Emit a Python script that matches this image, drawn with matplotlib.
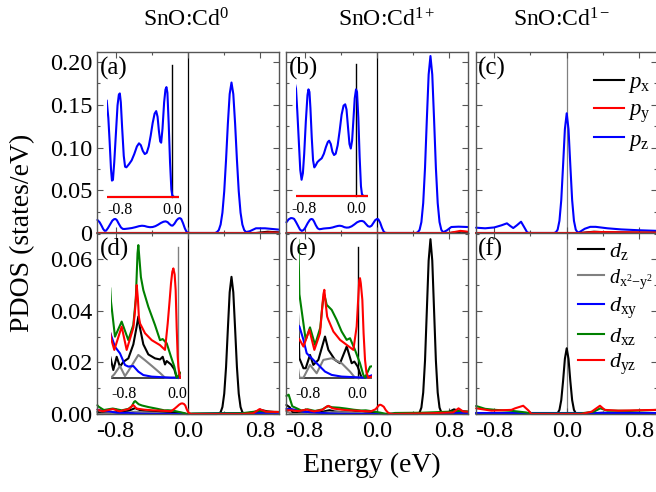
import numpy as np
import matplotlib
matplotlib.use('Agg')
import matplotlib.pyplot as plt
from matplotlib.ticker import FixedLocator
from matplotlib.lines import Line2D

plt.rcParams['font.family'] = ['Liberation Serif', 'DejaVu Serif']
plt.rcParams['mathtext.fontset'] = 'custom'
plt.rcParams['mathtext.rm'] = 'Liberation Serif'
plt.rcParams['mathtext.it'] = 'Liberation Serif:italic'
plt.rcParams['mathtext.bf'] = 'Liberation Serif:bold'
plt.rcParams['axes.unicode_minus'] = False

# ---------------- data (energy in eV, PDOS in states/eV) ----------------
titles = ['SnO:Cd$^{0}$', 'SnO:Cd$^{1+}$', 'SnO:Cd$^{1-}$']
panel_labels = ['(a)', '(b)', '(c)', '(d)', '(e)', '(f)']
p_labels = [r'$\mathit{p}_{\mathrm{x}}$', r'$\mathit{p}_{\mathrm{y}}$', r'$\mathit{p}_{\mathrm{z}}$']
d_labels = [r'$\mathit{d}_{\mathrm{z}}$', r'$\mathit{d}_{\mathrm{x}^{2}{-}\mathrm{y}^{2}}$',
            r'$\mathit{d}_{\mathrm{xy}}$', r'$\mathit{d}_{\mathrm{xz}}$', r'$\mathit{d}_{\mathrm{yz}}$']
xtick_vals = [-0.8, 0.0, 0.8]
xtick_labels = ['-0.8', '0.0', '0.8']
top_ytick_vals = [0, 0.05, 0.10, 0.15, 0.20]
top_ytick_labels = ['0', '0.05', '0.10', '0.15', '0.20']
bot_ytick_vals = [0, 0.02, 0.04, 0.06]
bot_ytick_labels = ['0.00', '0.02', '0.04', '0.06']
inset_tick_vals = [-0.8, 0.0]
inset_tick_labels = ['-0.8', '0.0']

# panel (a)
a_pz_E = [-1.0, -0.975, -0.955, -0.935, -0.92, -0.905, -0.885, -0.86, -0.835, -0.815, -0.8, -0.785, -0.765,
          -0.74, -0.72, -0.70, -0.66, -0.62, -0.58, -0.54, -0.508, -0.48, -0.45, -0.42, -0.39, -0.36, -0.33,
          -0.30, -0.27, -0.246, -0.225, -0.205, -0.185, -0.17, -0.15, -0.125, -0.105, -0.09, -0.075, -0.055,
          -0.035, -0.015, 0.0, 0.03, 0.30, 0.32, 0.34, 0.36, 0.38, 0.40, 0.42, 0.44, 0.46, 0.48, 0.50, 0.52,
          0.54, 0.56, 0.58, 0.60, 0.62, 0.64, 0.68, 0.75, 0.85, 0.95, 1.0]
a_pz = [0.0153, 0.0125, 0.0087, 0.0045, 0.0026, 0.0027, 0.0055, 0.0100, 0.0145, 0.0162, 0.0164, 0.0150,
        0.0110, 0.0065, 0.0048, 0.0047, 0.0052, 0.0058, 0.0068, 0.0080, 0.0085, 0.0082, 0.0073, 0.0068,
        0.0070, 0.0080, 0.0097, 0.0117, 0.0132, 0.0136, 0.0127, 0.0105, 0.0088, 0.0086, 0.0108, 0.0150,
        0.0170, 0.0174, 0.0165, 0.0115, 0.0055, 0.0012, 0.0002, 0.0, 0.0, 0.0011, 0.0035, 0.0099, 0.0238,
        0.0489, 0.0857, 0.1278, 0.1625, 0.176, 0.1625, 0.1278, 0.0857, 0.0489, 0.0238, 0.0099, 0.0035,
        0.0011, 0.0020, 0.0055, 0.0055, 0.0045, 0.0040]
a_px_E = [-1.0, 0.75, 0.88, 1.0]
a_px = [0.0, 0.0, 0.0015, 0.0008]
a_py_E = [-1.0, 0.8, 0.9, 1.0]
a_py = [0.0, 0.0, 0.0008, 0.0004]

# panel (b)
b_pz_E = [-1.0, -0.975, -0.95, -0.93, -0.915, -0.895, -0.87, -0.85, -0.83, -0.81, -0.79, -0.765, -0.74,
          -0.725, -0.71, -0.695, -0.675, -0.655, -0.636, -0.615, -0.59, -0.56, -0.523, -0.49, -0.46, -0.43,
          -0.41, -0.385, -0.36, -0.335, -0.31, -0.28, -0.25, -0.22, -0.19, -0.165, -0.145, -0.12, -0.10,
          -0.08, -0.06, -0.04, -0.02, 0.0, 0.015, 0.035, 0.055, 0.075, 0.09, 0.11, 0.43, 0.45, 0.47, 0.49,
          0.51, 0.53, 0.55, 0.57, 0.59, 0.61, 0.63, 0.65, 0.67, 0.69, 0.71, 0.73, 0.77, 0.82, 0.9, 1.0]
b_pz = [0.0125, 0.0160, 0.0175, 0.0172, 0.0165, 0.0130, 0.0080, 0.0040, 0.0025, 0.0035, 0.0065, 0.0115,
        0.0155, 0.0164, 0.0160, 0.0135, 0.0090, 0.0055, 0.0044, 0.0047, 0.0052, 0.0055, 0.0058, 0.0065,
        0.0075, 0.0083, 0.0085, 0.0080, 0.0068, 0.0063, 0.0065, 0.0078, 0.0100, 0.0125, 0.0139, 0.0141,
        0.0133, 0.0103, 0.0080, 0.0073, 0.0085, 0.0117, 0.0150, 0.0164, 0.0160, 0.0120, 0.0060, 0.0015,
        0.0003, 0.0, 0.0, 0.0009, 0.0037, 0.0128, 0.035, 0.0762, 0.1327, 0.1853, 0.207, 0.1853, 0.1327,
        0.0762, 0.035, 0.0128, 0.0037, 0.0009, 0.0030, 0.0070, 0.0074, 0.0070]
b_px_E = [-1.0, 0.8, 0.93, 1.0]
b_px = [0.0, 0.0, 0.0015, 0.0010]
b_py_E = [-1.0, 0.8, 0.92, 1.0]
b_py = [0.0, 0.0, 0.0025, 0.0015]

# panel (c)
c_pz_E = [-1.0, -0.9, -0.8, -0.72, -0.66, -0.62, -0.59, -0.55, -0.504, -0.47, -0.435, -0.40, -0.14, -0.12,
          -0.10, -0.08, -0.06, -0.04, -0.02, 0.0, 0.02, 0.04, 0.06, 0.08, 0.10, 0.12, 0.14, 0.2, 0.26, 0.32,
          0.45, 0.6, 0.8, 1.0]
c_pz = [0.0062, 0.0055, 0.0065, 0.0090, 0.0113, 0.0080, 0.0058, 0.0090, 0.0132, 0.0070, 0.0005, 0.0, 0.0,
        0.0008, 0.0039, 0.0143, 0.0386, 0.0791, 0.1214, 0.140, 0.1214, 0.0791, 0.0386, 0.0143, 0.0039,
        0.0008, 0.0010, 0.0050, 0.0072, 0.0072, 0.0055, 0.0042, 0.0032, 0.0025]
c_px_E = [-1.0, 0.15, 0.3, 0.45, 1.0]
c_px = [0.0, 0.0, 0.0015, 0.0008, 0.0003]
c_py_E = [-1.0, 0.15, 0.3, 0.5, 1.0]
c_py = [0.0, 0.0, 0.0012, 0.0010, 0.0004]

# panel (d)
d_dz_E = [-1.0, -0.988, -0.954, -0.904, -0.855, -0.805, -0.731, -0.657, -0.61, -0.583, -0.56, -0.509,
          -0.435, -0.336, -0.262, -0.222, -0.188, -0.163, -0.099, -0.05, -0.015, 0.32, 0.34, 0.36, 0.38,
          0.40, 0.42, 0.44, 0.46, 0.48, 0.50, 0.52, 0.54, 0.56, 0.58, 0.60, 0.62, 0.64, 0.75, 0.8, 0.88, 1.0]
d_dz = [0.0008, 0.00067, 0.00029, 0.00079, 0.00042, 0.0006, 0.00073, 0.00126, 0.0019, 0.00231, 0.0019,
        0.00126, 0.00088, 0.00073, 0.00069, 0.00079, 0.0005, 0.00063, 0.0005, 0.00032, 0.0, 0.0, 0.0002,
        0.0007, 0.0027, 0.0079, 0.0182, 0.0330, 0.0472, 0.0532, 0.0472, 0.0330, 0.0182, 0.0079, 0.0027,
        0.0007, 0.0002, 0.0002, 0.0009, 0.0016, 0.0010, 0.0006]
d_dx2_E = [-1.0, -0.988, -0.939, -0.855, -0.781, -0.731, -0.583, -0.484, -0.385, -0.262, -0.188, 1.0]
d_dx2 = [0.0, 0.0, 0.00013, 0.00044, 0.00006, 0.00025, 0.00086, 0.00066, 0.00045, 0.00018, 0.0, 0.0]
d_dxy_E = [-1.0, -0.988, -0.929, -0.855, -0.781, -0.731, -0.657, -0.583, -0.509, -0.385, -0.1, 0.0, 0.3,
           0.7, 1.0]
d_dxy = [0.0017, 0.00161, 0.00117, 0.00092, 0.00048, 0.00042, 0.00044, 0.00023, 0.0001, 0.00004, 0.0, 0.0,
         0.0003, 0.0004, 0.0005]
d_dxz_E = [-1.0, -0.988, -0.929, -0.83, -0.731, -0.657, -0.62, -0.595, -0.583, -0.57, -0.545, -0.509,
           -0.435, -0.336, -0.262, -0.222, -0.163, -0.099, -0.05, -0.015, 0.05, 0.6, 0.8, 0.9, 1.0]
d_dxz = [0.0034, 0.00287, 0.00155, 0.00212, 0.00142, 0.0020, 0.0030, 0.0047, 0.00501, 0.0046, 0.0038,
         0.00331, 0.00268, 0.00199, 0.00142, 0.00146, 0.0013, 0.00079, 0.00042, 0.0, 0.0002, 0.0003, 0.0012,
         0.0008, 0.0008]
d_dyz_E = [-1.0, -0.988, -0.939, -0.83, -0.756, -0.657, -0.63, -0.607, -0.59, -0.575, -0.558, -0.484,
           -0.385, -0.262, -0.188, -0.148, -0.12, -0.099, -0.08, -0.064, -0.045, -0.03, -0.015, 0.0, 0.01,
           0.034, 0.6, 0.72, 0.79, 0.86, 1.0]
d_dyz = [0.0017, 0.00149, 0.00105, 0.00193, 0.00105, 0.00189, 0.0026, 0.0035, 0.0030, 0.0023, 0.00205,
         0.00168, 0.00142, 0.00123, 0.00105, 0.00205, 0.0029, 0.00357, 0.0040, 0.00413, 0.0039, 0.00331,
         0.0019, 0.0008, 0.00042, 0.0, 0.0, 0.0003, 0.0019, 0.0009, 0.0008]

# panel (e)
e_dz_E = [-1.0, -0.96, -0.935, -0.87, -0.834, -0.765, -0.711, -0.631, -0.524, -0.47, -0.417, -0.364, -0.283,
          -0.176, -0.096, -0.053, 0.0, 0.037, 0.064, 0.45, 0.47, 0.49, 0.51, 0.53, 0.55, 0.57, 0.59, 0.61,
          0.63, 0.65, 0.67, 0.69, 0.71, 0.73, 0.78, 0.85, 0.92, 1.0]
e_dz = [0.0035, 0.0025, 0.0007, 0.00034, 0.00034, 0.00082, 0.00046, 0.00064, 0.00148, 0.001, 0.00082,
        0.00064, 0.00052, 0.00112, 0.00052, 0.00058, 0.0004, 0.00016, 0.0, 0.0, 0.0006, 0.0025, 0.0083,
        0.0207, 0.0401, 0.0595, 0.0678, 0.0595, 0.0401, 0.0207, 0.0083, 0.0025, 0.0006, 0.0002, 0.0006,
        0.0018, 0.0010, 0.0008]
e_dx2_E = [-1.0, -0.935, -0.87, -0.765, -0.658, -0.551, -0.417, -0.257, -0.123, -0.043, 1.0]
e_dx2 = [0.0010, 0.0, 0.0, 0.00046, 0.00016, 0.00064, 0.0007, 0.00052, 0.00022, 0.0, 0.0]
e_dxy_E = [-1.0, -0.935, -0.87, -0.818, -0.738, -0.631, -0.524, -0.417, -0.257, 0.118, 0.5, 1.0]
e_dxy = [0.0020, 0.00184, 0.00136, 0.00088, 0.0007, 0.00046, 0.00022, 0.0001, 0.00004, 0.0, 0.0003, 0.0004]
e_dxz_E = [-1.0, -0.975, -0.935, -0.834, -0.765, -0.684, -0.6, -0.57, -0.551, -0.535, -0.515, -0.497,
           -0.417, -0.337, -0.257, -0.176, -0.123, -0.043, 0.037, 0.091, 0.118, 0.2, 0.5, 0.8, 0.9, 1.0]
e_dxz = [0.0070, 0.0075, 0.0030, 0.00136, 0.00181, 0.00118, 0.0018, 0.0025, 0.00285, 0.00298, 0.0028,
         0.00262, 0.00244, 0.00208, 0.00166, 0.00136, 0.00142, 0.001, 0.00052, 0.0001, 0.0, 0.0004, 0.0005,
         0.0009, 0.0012, 0.0010]
e_dyz_E = [-1.0, -0.935, -0.87, -0.775, -0.695, -0.604, -0.57, -0.55, -0.535, -0.515, -0.49, -0.47, -0.39,
           -0.283, -0.176, -0.069, -0.016, 0.01, 0.025, 0.037, 0.05, 0.075, 0.095, 0.118, 0.14, 0.171, 0.6,
           0.84, 0.9, 0.95, 1.0]
e_dyz = [0.0015, 0.00138, 0.00112, 0.00172, 0.001, 0.0016, 0.0025, 0.0030, 0.00316, 0.0027, 0.0022,
         0.00208, 0.00166, 0.00136, 0.00118, 0.001, 0.00184, 0.0029, 0.0035, 0.00358, 0.0034, 0.0028,
         0.0016, 0.00064, 0.0002, 0.0, 0.0003, 0.0006, 0.0022, 0.0010, 0.0009]

# panel (f)
f_dz_E = [-1.0, -0.2, -0.12, -0.10, -0.08, -0.06, -0.04, -0.02, 0.0, 0.02, 0.04, 0.06, 0.08, 0.10, 0.12,
          0.2, 0.4, 0.6, 1.0]
f_dz = [0.0003, 0.0002, 0.0001, 0.0003, 0.0016, 0.0054, 0.0128, 0.0214, 0.0255, 0.0214, 0.0128, 0.0054,
        0.0016, 0.0003, 0.0001, 0.0001, 0.0005, 0.0003, 0.0003]
f_dx2_E = [-1.0, 1.0]
f_dx2 = [0.0, 0.0]
f_dxy_E = [-1.0, 1.0]
f_dxy = [0.0004, 0.0004]
f_dxz_E = [-1.0, -0.9, -0.79, -0.6, -0.45, -0.4, 0.15, 0.3, 0.37, 0.45, 0.7, 1.0]
f_dxz = [0.0031, 0.0020, 0.0016, 0.0012, 0.0006, 0.0002, 0.0002, 0.0009, 0.0022, 0.0013, 0.0012, 0.0016]
f_dyz_E = [-1.0, -0.83, -0.61, -0.57, -0.48, -0.42, -0.39, 0.164, 0.275, 0.367, 0.42, 0.57, 1.0]
f_dyz = [0.0022, 0.0013, 0.0016, 0.0022, 0.0032, 0.0013, 0.0, 0.0, 0.0009, 0.0032, 0.0016, 0.0013, 0.0016]

# ---------------- styling ----------------
BLUE, RED, BLACK, GRAY, GREEN = '#0000ff', '#ff0000', '#000000', '#808080', '#008000'
p_colors = [BLACK, RED, BLUE]
d_colors = [BLACK, GRAY, BLUE, GREEN, RED]

top_sets = [
    [(a_px_E, a_px), (a_py_E, a_py), (a_pz_E, a_pz)],
    [(b_px_E, b_px), (b_py_E, b_py), (b_pz_E, b_pz)],
    [(c_px_E, c_px), (c_py_E, c_py), (c_pz_E, c_pz)],
]
bot_sets = [
    [(d_dz_E, d_dz), (d_dx2_E, d_dx2), (d_dxy_E, d_dxy), (d_dxz_E, d_dxz), (d_dyz_E, d_dyz)],
    [(e_dz_E, e_dz), (e_dx2_E, e_dx2), (e_dxy_E, e_dxy), (e_dxz_E, e_dxz), (e_dyz_E, e_dyz)],
    [(f_dz_E, f_dz), (f_dx2_E, f_dx2), (f_dxy_E, f_dxy), (f_dxz_E, f_dxz), (f_dyz_E, f_dyz)],
]
top_order = [2, 0, 1]   # pz first, px and py drawn over it

W, H = 656.0, 492.0
fig = plt.figure(figsize=(W / 100, H / 100), dpi=100)


def rect(x0, x1, ytop, ybot):
    return [x0 / W, 1 - ybot / H, (x1 - x0) / W, (ybot - ytop) / H]


col_x = [(97.4, 278.6), (286.4, 467.6), (476.1, 657.3)]
row_y = [(52, 233), (233, 414)]
SPINE = '#555555'
LW = 1.5
LKW = dict(lw=LW, solid_joinstyle='round', solid_capstyle='round')

axes = {}
for r in range(2):
    for c in range(3):
        ax = fig.add_axes(rect(col_x[c][0], col_x[c][1], row_y[r][0], row_y[r][1]))
        axes[(r, c)] = ax
        ax.set_xlim(-1, 1)
        ax.axvline(0, color=(GRAY if c == 2 else BLACK), lw=0.9, zorder=1)
        if r == 0:
            for k in top_order:
                E, v = top_sets[c][k]
                ax.plot(E, v, color=p_colors[k], clip_on=False, zorder=2, **LKW)
            ax.set_ylim(0, 0.2117)
            ax.set_yticks(top_ytick_vals)
            ax.yaxis.set_minor_locator(FixedLocator([0.025, 0.075, 0.125, 0.175]))
            ax.set_yticklabels(top_ytick_labels if c == 0 else [])
        else:
            for k in range(5):
                E, v = bot_sets[c][k]
                ax.plot(E, v, color=d_colors[k], clip_on=False, zorder=2, **LKW)
            ax.set_ylim(0, 0.0702)
            ax.set_yticks(bot_ytick_vals)
            ax.yaxis.set_minor_locator(FixedLocator([0.01, 0.03, 0.05, 0.07]))
            ax.set_yticklabels(bot_ytick_labels if c == 0 else [])
        ax.set_xticks(xtick_vals)
        ax.xaxis.set_minor_locator(FixedLocator([-0.4, 0.4]))
        ax.set_xticklabels(xtick_labels if r == 1 else [])
        ax.tick_params(which='both', direction='in', top=True, right=True, colors=SPINE,
                       labelcolor='black', labelsize=17.5, width=0.8)
        ax.tick_params(which='major', length=4)
        ax.tick_params(which='minor', length=2.5)
        ax.tick_params(axis='x', pad=5)
        ax.tick_params(axis='y', pad=3.5)
        for s in ax.spines.values():
            s.set_color(SPINE)
            s.set_linewidth(1.0)
        ax.text(0.012, 0.975, panel_labels[r * 3 + c], transform=ax.transAxes,
                ha='left', va='top', fontsize=18)

# legends
hp = [Line2D([], [], color=col, lw=LW) for col in p_colors]
axes[(0, 2)].legend(hp, p_labels, loc='upper left', bbox_to_anchor=(0.648, 0.89), frameon=False,
                    fontsize=16.5, handlelength=1.35, handletextpad=0.15, labelspacing=0.2,
                    borderpad=0, borderaxespad=0)
hd = [Line2D([], [], color=col, lw=LW) for col in d_colors]
leg_d = axes[(1, 2)].legend(hd, d_labels, loc='upper left', bbox_to_anchor=(0.56, 0.955), frameon=False,
                            fontsize=16, handlelength=1.2, handletextpad=0.2, labelspacing=0.22,
                            borderpad=0, borderaxespad=0)
leg_d.get_texts()[1].set_fontsize(14.5)

# insets (magnified valence region)
inset_specs = [
    # (row, col, left_px, right_px, base_px, top_px, xlim, ytop, vline colour, baseline, label pad)
    (0, 0, 106.7, 178.9, 197.0, 65.0, (-1.0, 0.10), 0.0209, BLACK, False, 1.5),
    (0, 1, 296.0, 368.3, 196.0, 64.0, (-0.915, 0.187), 0.0203, BLACK, False, 1.5),
    (1, 0, 111.0, 181.0, 377.7, 246.7, (-0.988, 0.049), 0.00495, GRAY, True, 3.5),
    (1, 1, 299.4, 372.0, 377.7, 247.0, (-0.935, 0.23), 0.0047, BLACK, True, 3.5),
]
BOT_M, TOP_M = 3.0, 8.0
for (r, c, x0, x1, base, top, xl, ytop, vcol, baseline, lpad) in inset_specs:
    hpx = base - top
    scale = ytop / hpx
    iax = fig.add_axes(rect(x0, x1, top - TOP_M, base + BOT_M))
    iax.set_xlim(*xl)
    iax.set_ylim(-BOT_M * scale, ytop + TOP_M * scale)
    tot = hpx + BOT_M + TOP_M
    iax.axvline(0, ymin=BOT_M / tot, ymax=(BOT_M + hpx) / tot, color=vcol, lw=1.0, zorder=1)
    if baseline:
        iax.axhline(0, color='#222222', lw=1.2, zorder=1)
    if r == 0:
        for k in top_order:
            E, v = top_sets[c][k]
            iax.plot(E, v, color=p_colors[k], zorder=2, **LKW)
    else:
        for k in range(5):
            E, v = bot_sets[c][k]
            iax.plot(E, v, color=d_colors[k], zorder=2, **LKW)
    iax.patch.set_alpha(0)
    for s in iax.spines.values():
        s.set_visible(False)
    iax.set_yticks([])
    iax.set_xticks(inset_tick_vals)
    iax.set_xticklabels(inset_tick_labels)
    iax.tick_params(axis='x', length=0, labelsize=11.5, pad=lpad)

# titles and axis labels
title_x = [185.8, 387.0, 561.7]
for t, cx in zip(titles, title_x):
    fig.text(cx / W, 1 - 20 / H, t, ha='center', va='center', fontsize=17)
fig.text(23 / W, 1 - 233 / H, 'PDOS (states/eV)', rotation=90, ha='center', va='center', fontsize=20)
fig.text(372 / W, 1 - 465 / H, 'Energy (eV)', ha='center', va='center', fontsize=20)

fig.savefig('out.png', dpi=100)
